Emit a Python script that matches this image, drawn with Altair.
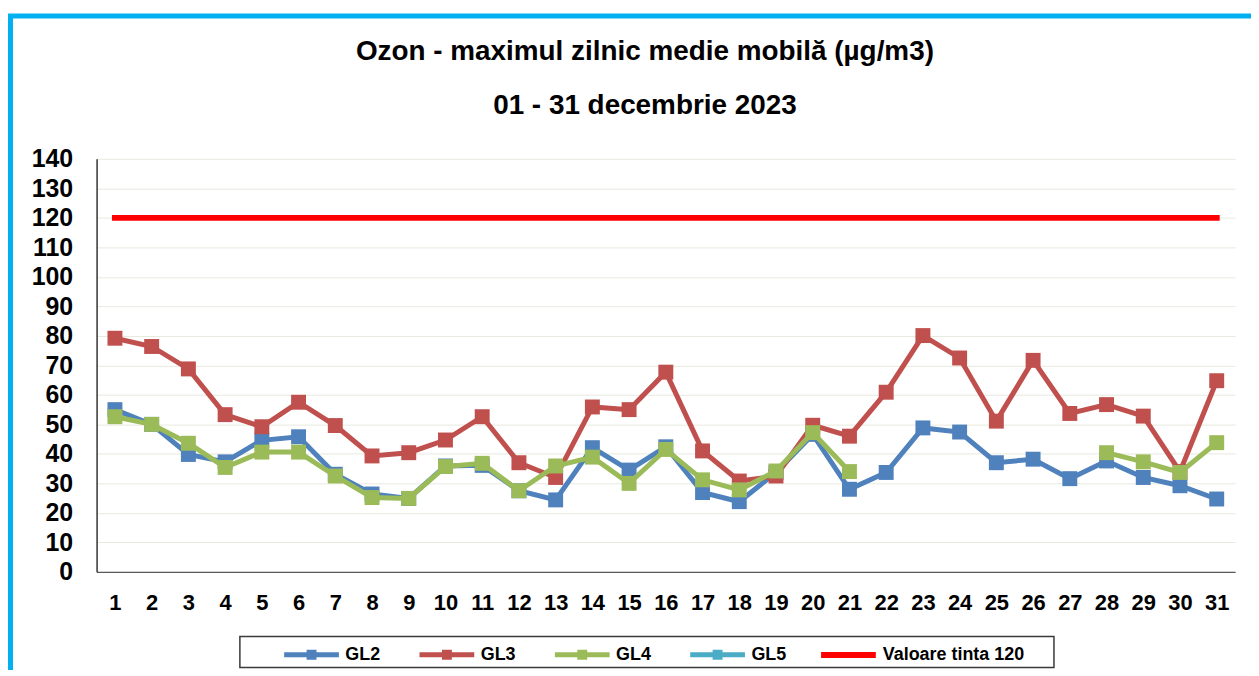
import altair as alt
import pandas as pd

FONT = "Liberation Sans"

days = [1, 2, 3, 4, 5, 6, 7, 8, 9, 10, 11, 12, 13, 14, 15, 16, 17, 18, 19, 20,
        21, 22, 23, 24, 25, 26, 27, 28, 29, 30, 31]

series_names = ["GL2", "GL3", "GL4", "GL5"]
series_colors = ["#4F81BD", "#C0504D", "#9BBB59", "#4BACC6"]

gl2 = [55.0, 50.0, 39.8, 37.3, 44.6, 45.8, 33.1, 26.4, 24.9, 35.9, 36.1, 27.5, 24.4,
       42.1, 34.5, 42.4, 26.9, 23.8, 33.7, 46.6, 28.0, 33.7, 48.8, 47.4, 37.0, 38.2,
       31.6, 37.6, 32.0, 29.2, 24.7]
gl3 = [79.2, 76.4, 68.8, 53.3, 49.2, 57.5, 49.6, 39.3, 40.4, 44.7, 52.6, 37.0, 32.0,
       55.9, 55.0, 67.7, 41.0, 30.8, 32.5, 49.7, 46.0, 60.9, 80.1, 72.5, 51.1, 71.7,
       53.7, 56.7, 52.8, 34.0, 64.8]
gl4 = [52.6, 50.0, 43.6, 35.4, 40.6, 40.6, 32.5, 25.2, 24.9, 35.7, 36.8, 27.5, 35.9,
       38.9, 30.0, 41.5, 31.2, 27.8, 34.2, 47.2, 34.0, None, None, None, None, None,
       None, 40.4, 37.3, 33.7, 43.8]
gl5 = [None, None, None, None, None, None, None, None, None, None, None, None, None,
       None, None, None, None, None, None, None, None, None, None, None, None, None,
       None, None, None, None, None]

target_label = "Valoare tinta 120"
target_days = [1, 31]
target_values = [120, 120]
target_color = "#FF0000"

y_ticks = [0, 10, 20, 30, 40, 50, 60, 70, 80, 90, 100, 110, 120, 130, 140]

title_text = "Ozon - maximul zilnic medie mobilă (µg/m3)"
subtitle_text = "01 - 31 decembrie 2023"

rows = []
for name, vals in zip(series_names, [gl2, gl3, gl4, gl5]):
    for d, v in zip(days, vals):
        rows.append({"day": d, "series": name, "value": v})
df = pd.DataFrame(rows)

target_df = pd.DataFrame({"day": target_days, "value": target_values,
                          "label": [target_label] * len(target_days)})

W, H = 1144, 415

x_enc = alt.X("day:O", scale=alt.Scale(type="point", padding=0.5, domain=days),
              axis=alt.Axis(title=None, labelAngle=0, ticks=False, grid=False,
                            labelFont=FONT, labelFontSize=22, labelFontWeight="bold",
                            labelColor="black", domainColor="#595959", domainWidth=1.5,
                            labelPadding=21))
y_enc = alt.Y("value:Q", scale=alt.Scale(domain=[0, 140], nice=False, zero=True),
              axis=alt.Axis(title=None, values=y_ticks, ticks=False, grid=True,
                            gridColor="#E9E9E0", gridWidth=1,
                            labelFont=FONT, labelFontSize=25, labelFontWeight="bold",
                            labelColor="black", domainColor="#000000", domainWidth=1.2,
                            labelPadding=24))

GL_PATH = "M-1,0L1,0M-0.09,-0.09L0.09,-0.09L0.09,0.09L-0.09,0.09Z"

gl_legend = alt.Legend(title=None, orient="none", legendX=186, legendY=468,
                       direction="horizontal", symbolType=GL_PATH, symbolSize=3025,
                       symbolStrokeWidth=5, labelFont=FONT, labelFontSize=18,
                       labelFontWeight="bold", labelColor="black", labelOffset=4,
                       columnPadding=28, gridAlign="all", padding=0, symbolOpacity=1)
target_legend = alt.Legend(title=None, orient="none", legendX=725, legendY=468,
                           direction="horizontal", symbolType="M-1,0L1,0",
                           symbolSize=3025, symbolStrokeWidth=6, labelFont=FONT,
                           labelFontSize=18, labelFontWeight="bold", labelColor="black",
                           labelOffset=4, padding=0, symbolOpacity=1)

color_enc = alt.Color("series:N", scale=alt.Scale(domain=series_names, range=series_colors),
                      legend=gl_legend)

one = alt.Data(values=[{"k": 1}])
frame = alt.Chart(one).mark_rect(fillOpacity=0, stroke="#00B0F0", strokeWidth=5).encode(
    x=alt.value(-86.5), x2=alt.value(1250), y=alt.value(-143.5), y2=alt.value(600))
legend_box = alt.Chart(one).mark_rect(fillOpacity=0, stroke="#3A3A3A", strokeWidth=1.5).encode(
    x=alt.value(144), x2=alt.value(962), y=alt.value(480), y2=alt.value(511))

layers = [frame, legend_box]
for name in series_names:
    base = alt.Chart(df).transform_filter(alt.datum.series == name)
    layers.append(base.mark_line(strokeWidth=5, invalid="break-paths-show-domains").encode(
        x=x_enc, y=y_enc, color=color_enc))
    layers.append(base.mark_point(shape="square", filled=True, size=225, opacity=1).encode(
        x=x_enc, y=y_enc, color=color_enc))

target = alt.Chart(target_df).mark_line(strokeWidth=6, strokeCap="square").encode(
    x=x_enc, y=y_enc,
    stroke=alt.Stroke("label:N", scale=alt.Scale(domain=[target_label], range=[target_color]),
                      legend=target_legend))
layers.append(target)

chart = alt.layer(*layers).properties(
    width=W, height=H,
    title=alt.TitleParams(text=title_text, subtitle=subtitle_text, font=FONT, fontSize=28,
                          fontWeight="bold", color="black", subtitleFont=FONT,
                          subtitleFontSize=28, subtitleFontWeight="bold",
                          subtitleColor="black", subtitlePadding=26, anchor="middle",
                          frame="group", dx=-21, dy=145, offset=38),
    autosize=alt.AutoSizeParams(type="none"),
    padding={"left": 89, "top": 150, "right": 16, "bottom": 97},
    background="white",
).configure_view(stroke=None)

chart.save("out.html", embed_options={"renderer": "svg", "actions": False})
